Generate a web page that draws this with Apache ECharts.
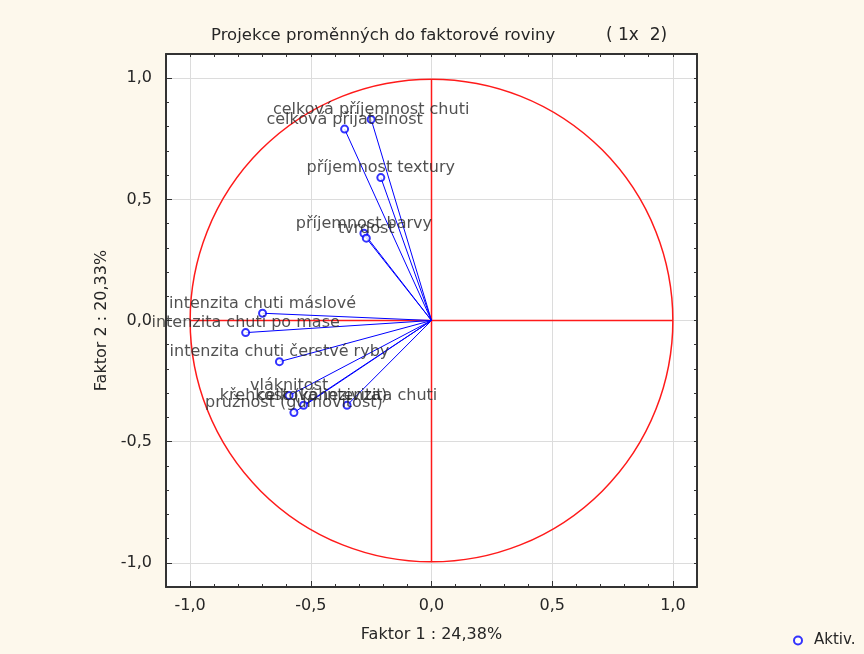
<!DOCTYPE html>
<html>
<head>
<meta charset="utf-8">
<script src="https://cdn.jsdelivr.net/npm/echarts@6/dist/echarts.min.js"></script>
<style>
  html, body { margin: 0; padding: 0; background: #fdf8ec; }
  #chart { width: 864px; height: 654px; }
</style>
</head>
<body>
<div id="chart"></div>
<script>
// promenne a jejich souradnice ve faktorove rovine
var variableNames = [
  'celková příjemnost chuti',
  'celková přijatelnost',
  'příjemnost textury',
  'příjemnost barvy',
  'tvrdost',
  'intenzita chuti máslové',
  'intenzita chuti po mase',
  'intenzita chuti čerstvé ryby',
  'vláknitost',
  'křehkost (kohezivita)',
  'celková intenzita chuti',
  'pružnost (gumovitost)'
];
var factor1 = [-0.25, -0.36, -0.21, -0.28, -0.27, -0.70, -0.77, -0.63, -0.59, -0.53, -0.35, -0.57];
var factor2 = [0.83, 0.79, 0.59, 0.36, 0.34, 0.03, -0.05, -0.17, -0.31, -0.35, -0.35, -0.38];

var majorTicks = [-1.0, -0.5, 0.0, 0.5, 1.0];
var tickLabels = ['-1,0', '-0,5', '0,0', '0,5', '1,0'];
var axisRange = [-1.1, 1.1];
var circleRadius = 1;

var font = 'DejaVu Sans';
var textColor = '#262626';

function tickLabel(v) {
  for (var i = 0; i < majorTicks.length; i++) {
    if (Math.abs(v - majorTicks[i]) < 1e-6) return tickLabels[i];
  }
  return '';
}

var gridBox = { left: 166, top: 54, width: 531, height: 533 };

// hlavni osy: popisky, mrizka, delsi znacky
function mainAxis(pos) {
  return {
    type: 'value', gridIndex: 0, position: pos,
    min: axisRange[0], max: axisRange[1],
    axisLine: { show: false, onZero: false },
    axisTick: { show: true, inside: true, length: 6, lineStyle: { color: '#333', width: 1 } },
    axisLabel: { formatter: tickLabel, color: textColor, fontSize: 16, fontFamily: font, margin: pos === 'left' ? 14 : 11 },
    splitLine: { show: true, lineStyle: { color: '#dcdcdc', width: 1 } }
  };
}
// ramecek a kratke znacky po 0,1
function minorAxis(pos) {
  return {
    type: 'value', gridIndex: 1, position: pos,
    min: axisRange[0], max: axisRange[1], interval: 0.1,
    axisLine: { show: true, onZero: false, lineStyle: { color: '#333', width: 2 } },
    axisTick: { show: true, inside: true, length: 3, lineStyle: { color: '#333', width: 1 } },
    axisLabel: { show: false },
    splitLine: { show: false }
  };
}

var xMain = mainAxis('bottom');
xMain.name = 'Faktor 1 : 24,38%';
xMain.nameLocation = 'middle';
xMain.nameGap = 40;
xMain.nameTextStyle = { color: textColor, fontSize: 16, fontFamily: font };
var yMain = mainAxis('left');
yMain.name = 'Faktor 2 : 20,33%';
yMain.nameLocation = 'middle';
yMain.nameGap = 56;
yMain.nameTextStyle = { color: textColor, fontSize: 16, fontFamily: font };

var points = variableNames.map(function (n, i) {
  return { name: n, value: [factor1[i], factor2[i]] };
});

function redStyle() {
  return { stroke: '#ff1a1a', lineWidth: 1.5, fill: null };
}

var option = {
  backgroundColor: '#fdf8ec',
  animation: false,
  title: [
    { text: 'Projekce proměnných do faktorové roviny', left: 206, top: 22,
      textStyle: { color: textColor, fontSize: 16.5, fontWeight: 'normal', fontFamily: font } },
    { text: '( 1x  2)', left: 601, top: 22,
      textStyle: { color: textColor, fontSize: 17, fontWeight: 'normal', fontFamily: font } }
  ],
  legend: {
    data: ['Aktiv.'],
    left: 788, top: 628,
    itemWidth: 8, itemHeight: 8, itemGap: 6,
    textStyle: { color: textColor, fontSize: 15, fontFamily: font, padding: [0, 0, 0, 7] }
  },
  grid: [
    Object.assign({ show: true, backgroundColor: '#fff', borderWidth: 0 }, gridBox),
    Object.assign({ show: false }, gridBox)
  ],
  xAxis: [xMain, minorAxis('bottom'), minorAxis('top')],
  yAxis: [yMain, minorAxis('left'), minorAxis('right')],
  series: [
    {
      // jednotkova kruznice a osy
      type: 'custom', xAxisIndex: 0, yAxisIndex: 0, silent: true, z: 5,
      data: [[0, 0]],
      renderItem: function (params, api) {
        var c = api.coord([0, 0]);
        var r = api.size([circleRadius, circleRadius])[0];
        return {
          type: 'group',
          children: [
            { type: 'circle', shape: { cx: c[0], cy: c[1], r: r }, style: redStyle() },
            { type: 'polyline', shape: { points: [[c[0] - r, c[1]], [c[0] + r, c[1]]] }, style: redStyle() },
            { type: 'polyline', shape: { points: [[c[0], c[1] - r], [c[0], c[1] + r]] }, style: redStyle() }
          ]
        };
      }
    },
    {
      // vektory z pocatku
      type: 'custom', xAxisIndex: 0, yAxisIndex: 0, silent: true, z: 6,
      data: points.map(function (p) { return p.value; }),
      renderItem: function (params, api) {
        var o = api.coord([0, 0]);
        var p = api.coord([api.value(0), api.value(1)]);
        return { type: 'line', shape: { x1: o[0], y1: o[1], x2: p[0], y2: p[1] },
          style: { stroke: '#0000ff', lineWidth: 1 } };
      }
    },
    {
      name: 'Aktiv.',
      type: 'scatter', xAxisIndex: 0, yAxisIndex: 0, z: 7,
      symbol: 'emptyCircle', symbolSize: 7,
      itemStyle: { color: '#0000ff', borderColor: '#0000ff', borderWidth: 1 },
      label: {
        show: true, position: 'top', distance: -3,
        formatter: '{b}', color: textColor, fontSize: 16, fontFamily: font
      },
      data: points
    }
  ]
};

var myChart = echarts.init(document.getElementById('chart'));
myChart.setOption(option);
</script>
</body>
</html>
